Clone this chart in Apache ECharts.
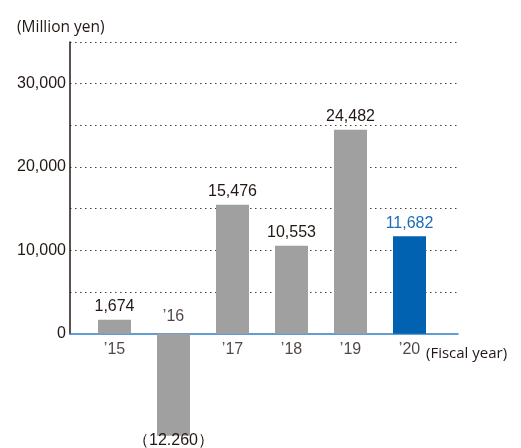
<!DOCTYPE html>
<html>
<head>
<meta charset="utf-8">
<script src="https://cdn.jsdelivr.net/npm/echarts@6/dist/echarts.min.js"></script>
<style>
html,body{margin:0;padding:0;background:#fff;}
#chart{width:521px;height:448px;}
</style>
</head>
<body>
<div id="chart"></div>
<script>
// ---- data ----
const categories = ["’15", "’16", "’17", "’18", "’19", "’20"];
const values = [1674, -12260, 15476, 10553, 24482, 11682];
const valueLabels = ["1,674", "（12.260）", "15,476", "10,553", "24,482", "11,682"];
const yTicks = [0, 10000, 20000, 30000];
const yUnit = "(Million yen)";
const xUnit = "(Fiscal year)";

const TEXT = '#231815';
const GRAY = '#a0a0a0';
const BLUE = '#0062b1';
const BLUE_TEXT = '#1c6cb8';
const NUM_FONT = "'Liberation Sans', Arial, sans-serif";
const UNIT_FONT = "'Open Sans', 'Noto Sans', sans-serif";
const hi = values.length - 1;

const chart = echarts.init(document.getElementById('chart'), null, {renderer: 'canvas'});
chart.setOption({
  animation: false,
  backgroundColor: '#fff',
  title: [
    {text: yUnit, left: 12, top: 15, padding: 5, textStyle: {fontFamily: UNIT_FONT, fontSize: 15.5, fontWeight: 'normal', color: TEXT}},
    {text: xUnit, left: 421, top: 341, padding: 5, textStyle: {fontFamily: UNIT_FONT, fontSize: 15, fontWeight: 'normal', color: TEXT}}
  ],
  grid: [
    {left: 70, right: 63, top: 42, bottom: 114.33},
    {left: 85, right: 82, top: 42, bottom: 6}
  ],
  xAxis: [
    {gridIndex: 0, type: 'value', min: 0, max: 1, axisLabel: {show: false}, axisTick: {show: false}, splitLine: {show: false},
     axisLine: {show: true, lineStyle: {color: '#2f7cc6', width: 1.5}}},
    {gridIndex: 1, type: 'category', data: categories, show: false}
  ],
  yAxis: [
    {gridIndex: 0, type: 'value', min: 0, max: 35000, interval: 5000,
     axisLine: {show: true, lineStyle: {color: TEXT, width: 1.5}},
     axisTick: {show: false},
     axisLabel: {margin: 4, color: TEXT, fontFamily: NUM_FONT, fontSize: 16,
       formatter: v => yTicks.includes(v) ? v.toLocaleString('en-US') : ''},
     splitLine: {show: true, showMinLine: false, lineStyle: {color: '#444', width: 1, type: [1.5, 3.5]}}},
    {gridIndex: 1, type: 'value', min: -13000, max: 35000, show: false}
  ],
  series: [
    {
      type: 'bar', xAxisIndex: 1, yAxisIndex: 1, barWidth: 33,
      data: values.map((v, i) => ({
        value: v,
        itemStyle: {color: i === hi ? BLUE : GRAY},
        label: {
          show: true,
          position: v < 0 ? 'bottom' : 'top',
          distance: v < 0 ? -3 : 5,
          formatter: valueLabels[i],
          color: i === hi ? BLUE_TEXT : TEXT,
          fontFamily: NUM_FONT, fontSize: 16
        }
      }))
    },
    {
      type: 'scatter', xAxisIndex: 1, yAxisIndex: 1, symbolSize: 0, silent: true,
      itemStyle: {color: 'transparent'},
      data: categories.map((c, i) => ({
        value: [i, 0],
        label: {
          show: true,
          position: values[i] < 0 ? 'top' : 'bottom',
          distance: values[i] < 0 ? 9 : 8,
          formatter: c,
          color: TEXT,
          fontFamily: NUM_FONT, fontSize: 16
        }
      }))
    }
  ]
});
</script>
</body>
</html>
